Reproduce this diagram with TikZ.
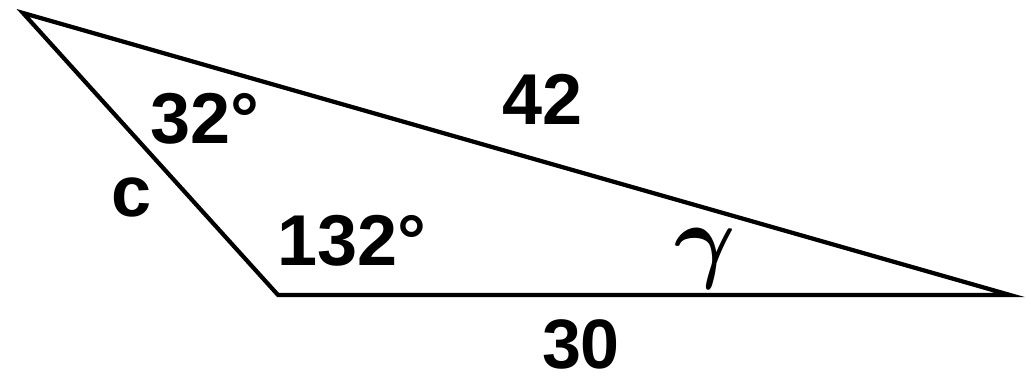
\documentclass[tikz,border=0pt]{standalone}
\usepackage{graphicx}
\usepackage{amsmath}
\usepackage{fontspec}
\setmainfont{Liberation Sans}
\begin{document}
\begin{tikzpicture}[x=1pt,y=-1pt,
  lbl/.style={font=\fontsize{72}{80}\selectfont\bfseries, inner sep=0pt},
  side/.style={line width=4.2pt, line join=miter, miter limit=20}]
\useasboundingbox (0,0) rectangle (1031,380);
\coordinate (A) at (23,13);
\coordinate (B) at (278,295);
\coordinate (C) at (1010,295);
\draw[side] (A) -- (B) -- (C) -- cycle;
\node[lbl] (l42) at (543,99) {42};
\node[lbl] (l32) at (205,119) {32°};
\node[lbl] (lc) at (132,197) {c};
\node[lbl] (l132) at (352,241) {132°};
\node[inner sep=0pt] (lg) at (705,259) {\scalebox{9.4}{$\boldsymbol{\gamma}$}};
\node[lbl, font=\fontsize{70}{78}\selectfont\bfseries] (l30) at (581,344) {30};
\end{tikzpicture}
\end{document}
